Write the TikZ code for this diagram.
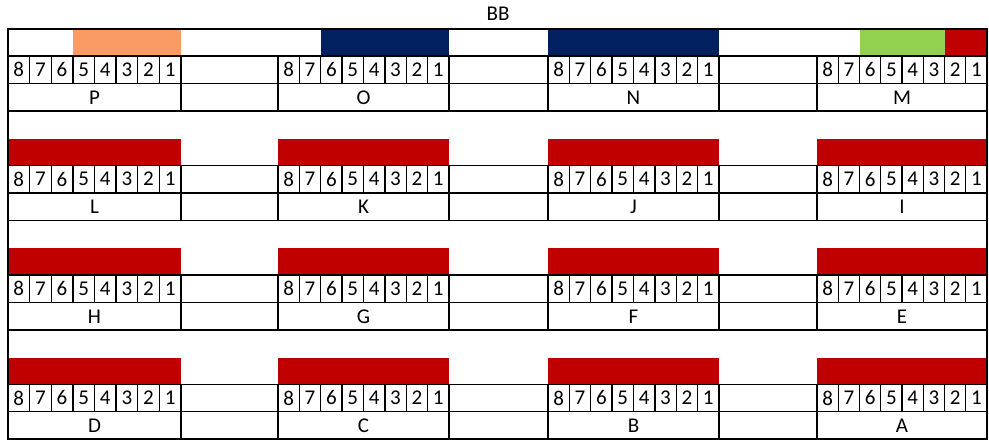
\documentclass[tikz,border=0pt]{standalone}
\usepackage{fontspec}
\setmainfont{Carlito}
\definecolor{barred}{RGB}{192,0,0}
\definecolor{barnavy}{RGB}{0,32,96}
\definecolor{barorange}{RGB}{250,155,102}
\definecolor{bargreen}{RGB}{146,208,80}
\def\xsarr{{8,278,548,817}}
\def\xearr{{181,449,719,987}}
\begin{document}
\begin{tikzpicture}[x=1pt,y=-1pt,
  grid/.style={line width=1.4pt, black},
  frame/.style={line width=2.6pt, black},
  txt/.style={inner sep=0pt, font=\fontsize{21}{21}\selectfont}]
\useasboundingbox (0,0) rectangle (989,440);
\node[txt] (title) at (498,14) {BB};
% coloured bars
\foreach \g/\b/\k/\l/\c in {0/0/3/8/barorange, 0/1/2/8/barnavy, 0/2/0/8/barnavy,
  0/3/2/6/bargreen, 0/3/6/8/barred,
  1/0/0/8/barred, 1/1/0/8/barred, 1/2/0/8/barred, 1/3/0/8/barred,
  2/0/0/8/barred, 2/1/0/8/barred, 2/2/0/8/barred, 2/3/0/8/barred,
  3/0/0/8/barred, 3/1/0/8/barred, 3/2/0/8/barred, 3/3/0/8/barred}{
  \pgfmathsetmacro\xa{\xsarr[\b]}
  \pgfmathsetmacro\xb{\xearr[\b]}
  \pgfmathsetmacro\cw{(\xb-\xa)/8}
  \pgfmathsetmacro\yt{56+109.4*\g}
  \pgfmathsetmacro\ya{\g==0 ? 29 : \yt-26.5}
  \fill[\c] ({\xa+\k*\cw},\ya) rectangle ({\xa+\l*\cw},\yt);
}
% table rows
\foreach \g in {0,...,3}{
  \pgfmathsetmacro\yt{56+109.4*\g}
  \pgfmathsetmacro\ym{\yt+27.5}
  \pgfmathsetmacro\yb{\yt+55}
  \draw[grid] (8,\yt) -- (987,\yt) (8,\ym) -- (987,\ym) (8,\yb) -- (987,\yb);
  \foreach \b in {0,...,3}{
    \pgfmathsetmacro\xa{\xsarr[\b]}
    \pgfmathsetmacro\xb{\xearr[\b]}
    \pgfmathsetmacro\cw{(\xb-\xa)/8}
    \draw[grid] (\xa,\yt) -- (\xa,\yb) (\xb,\yt) -- (\xb,\yb);
    \foreach \i in {1,...,7} \draw[grid] ({\xa+\i*\cw},\yt) -- ({\xa+\i*\cw},\ym);
    \foreach \i in {0,...,7}{
      \pgfmathtruncatemacro\d{8-\i}
      \node[txt] (d-\g-\b-\d) at ({\xa+(\i+0.5)*\cw},{(\yt+\ym)/2}) {\d};
    }
    \pgfmathtruncatemacro\n{4*\g+\b}
    \node[txt] (l-\g-\b) at ({(\xa+\xb)/2},{(\ym+\yb)/2+0.5})
      {\ifcase\n P\or O\or N\or M\or L\or K\or J\or I\or H\or G\or F\or E\or D\or C\or B\or A\fi};
  }
}
\draw[frame] (8,29) rectangle (987,439);
\end{tikzpicture}
\end{document}
